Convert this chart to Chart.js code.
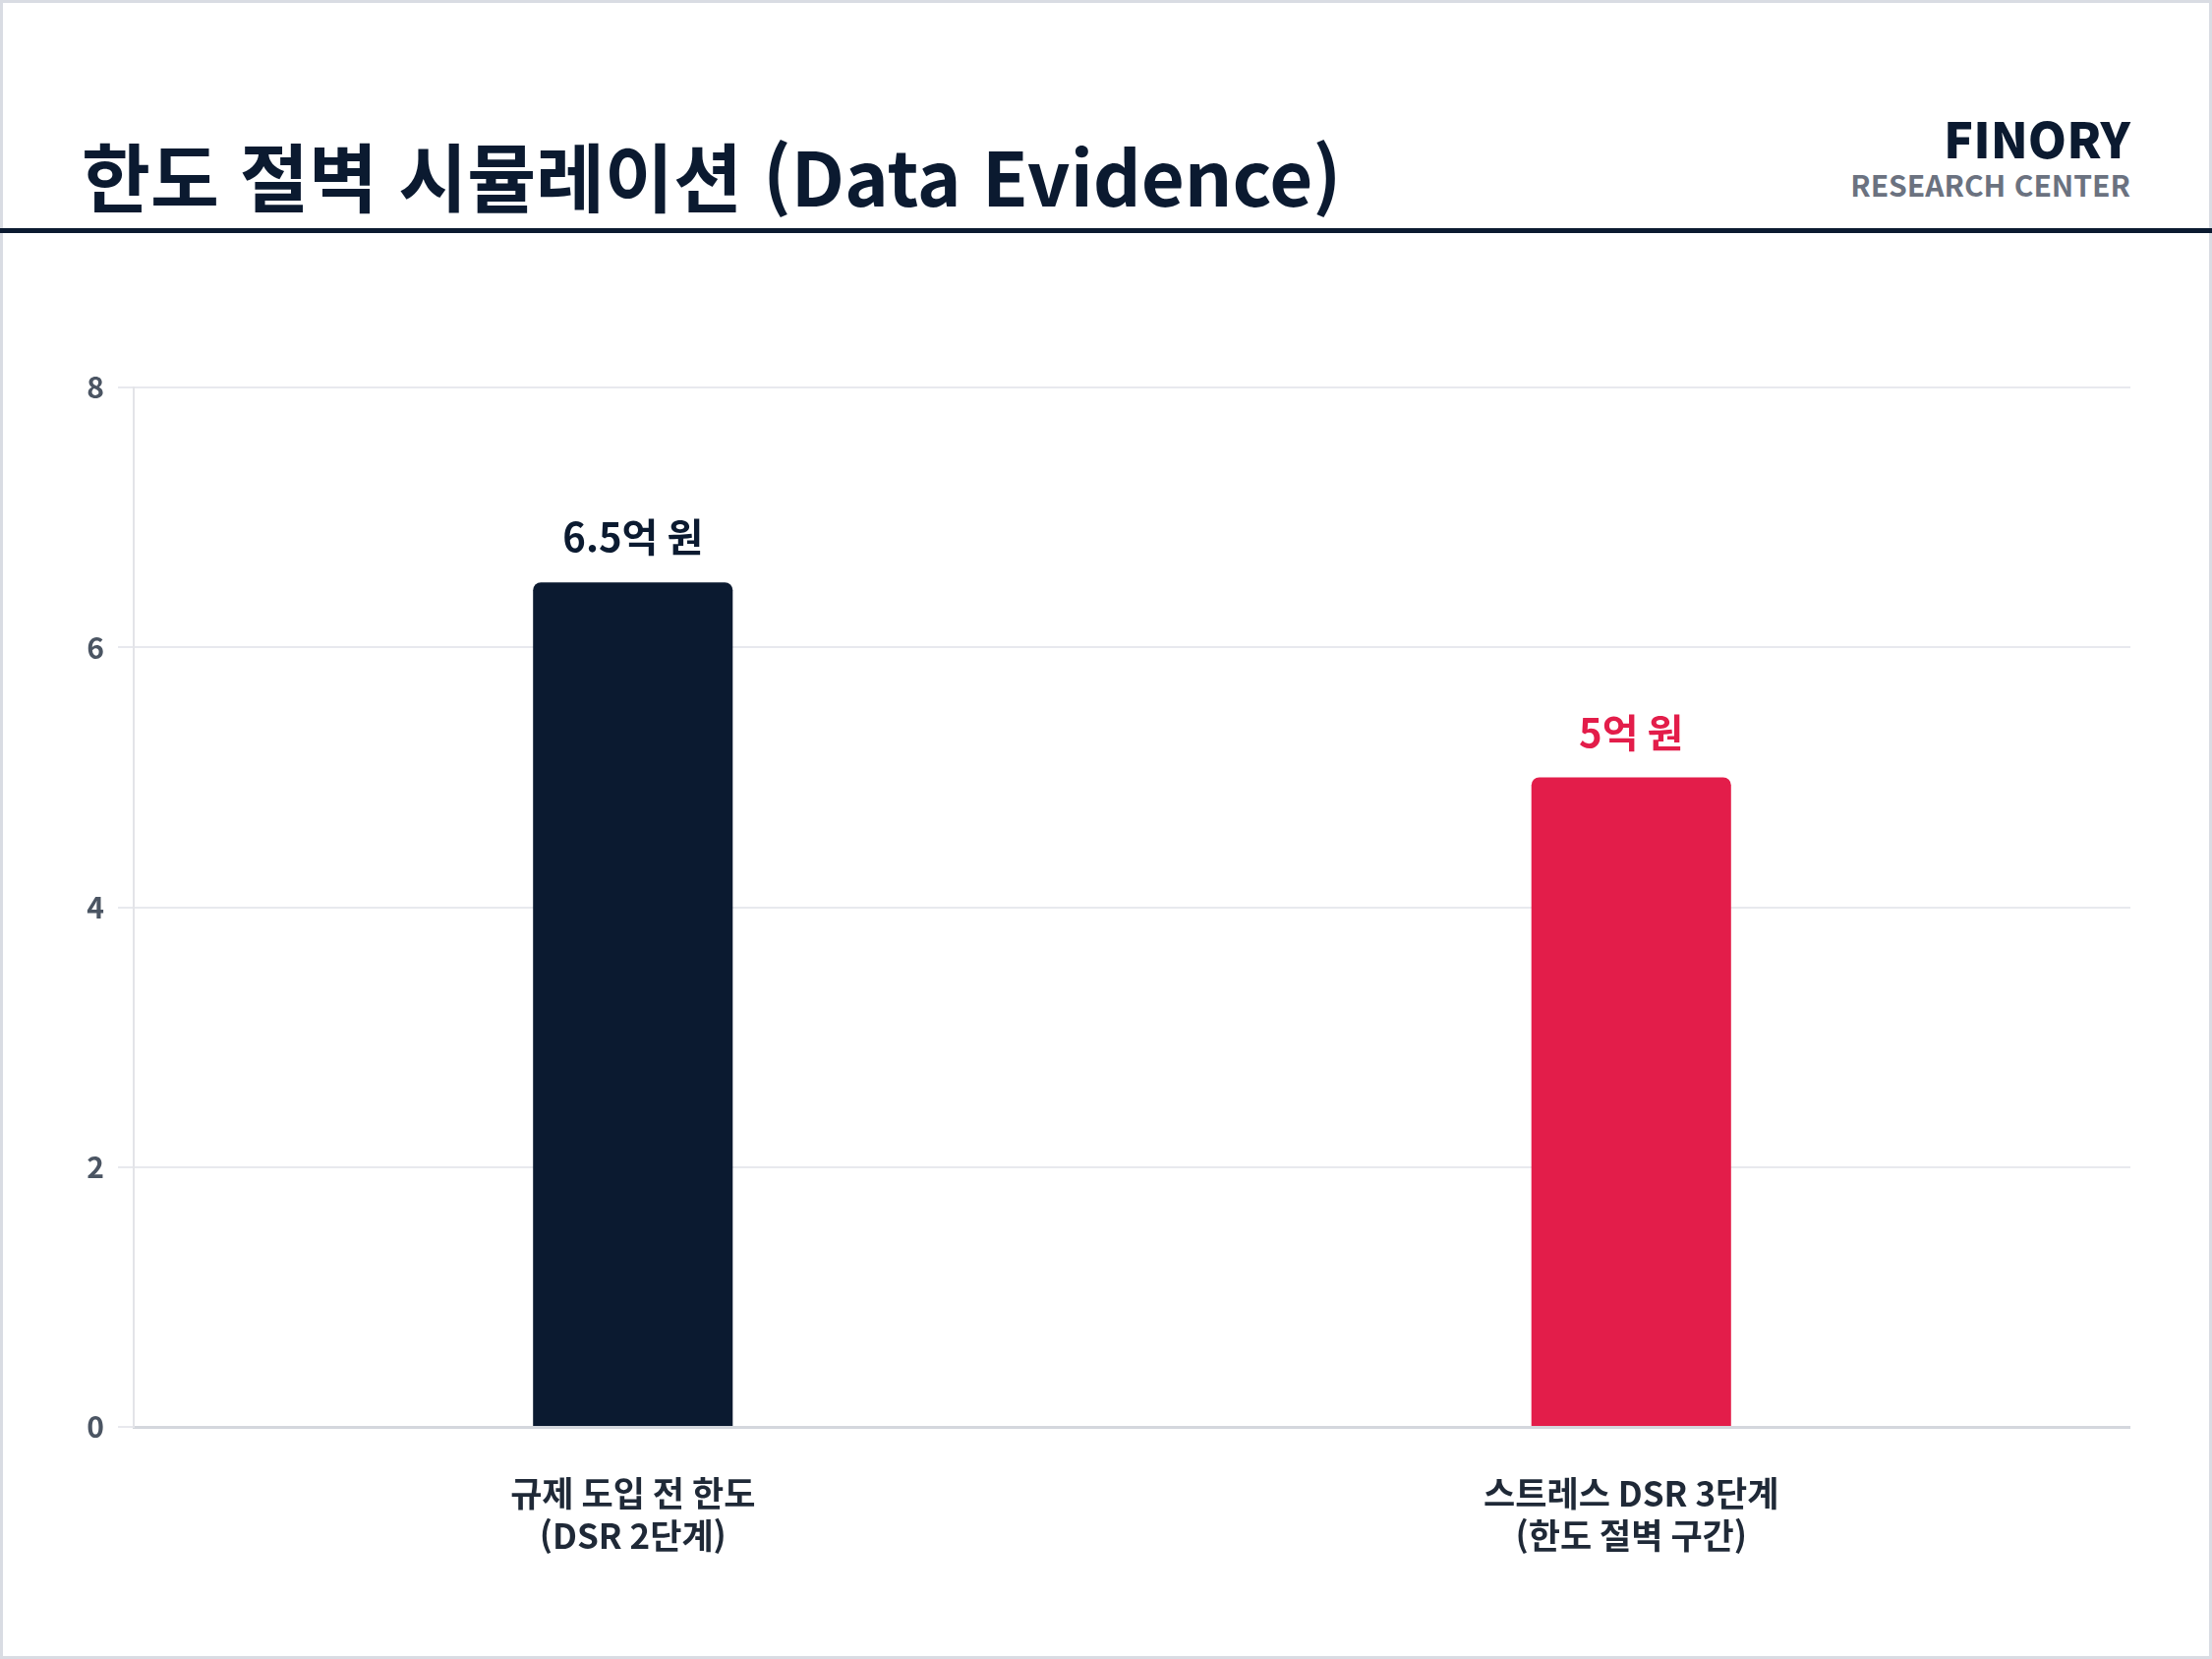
<!DOCTYPE html>
<html lang="ko">
<head>
<meta charset="utf-8">
<script src="https://cdn.jsdelivr.net/npm/chart.js@4.4.1/dist/chart.umd.min.js"></script>
<style>
  html, body { margin: 0; padding: 0; background: #fff; }
  body { width: 2250px; height: 1687px; position: relative; overflow: hidden;
    font-family: "Noto Sans CJK KR", "Noto Sans", sans-serif; }
  .frame { position: absolute; left: 0; top: 0; width: 2250px; height: 1687px;
    box-sizing: border-box; border: 3px solid #d9dce3; }
  .title { position: absolute; left: 83px; top: 139px; font-size: 76px; font-weight: 700;
    color: #0b1a30; line-height: 1; white-space: nowrap; }
  .brand { position: absolute; right: 83px; top: 114px; text-align: right; line-height: 1; }
  .brand .name { font-size: 50px; font-weight: 800; color: #0b1a30; }
  .brand .sub { font-size: 30px; font-weight: 700; color: #6b7280; margin-top: 8px; }
  .rule { position: absolute; left: 0; top: 232px; width: 2250px; height: 5px; background: #0b1a30; }
  .chart-box { position: absolute; left: 40px; top: 362px; width: 2127px; height: 1259px; }
</style>
</head>
<body>
<div class="frame"></div>
<div class="title">한도 절벽 시뮬레이션 (Data Evidence)</div>
<div class="brand">
  <div class="name">FINORY</div>
  <div class="sub">RESEARCH CENTER</div>
</div>
<div class="rule"></div>
<div class="chart-box"><canvas id="chart"></canvas></div>
<script>
const categories = [['규제 도입 전 한도', '(DSR 2단계)'], ['스트레스 DSR 3단계', '(한도 절벽 구간)']]
const limitValues = [6.5, 5]
const valueLabels = ['6.5억 원', '5억 원']
const barColors = ['#0b1a30', '#e31d4a']
const yTicks = [0, 2, 4, 6, 8]

// text above each bar
const barLabels = {
  id: 'barLabels',
  afterDatasetsDraw(chart) {
    const ctx = chart.ctx
    const meta = chart.getDatasetMeta(0)
    ctx.save()
    ctx.font = '700 40px "Noto Sans CJK KR", sans-serif'
    ctx.textAlign = 'center'
    ctx.textBaseline = 'middle'
    meta.data.forEach((bar, i) => {
      ctx.fillStyle = barColors[i]
      ctx.fillText(valueLabels[i], bar.x, bar.y - 46)
    })
    ctx.restore()
  }
}

const chart = new Chart(document.querySelector('#chart').getContext('2d'), {
  type: 'bar',
  data: {
    labels: categories,
    datasets: [{
      data: limitValues,
      backgroundColor: barColors,
      borderRadius: { topLeft: 8, topRight: 8 },
      borderSkipped: 'bottom',
      barPercentage: 0.4,
      categoryPercentage: 0.5
    }]
  },
  options: {
    responsive: true,
    maintainAspectRatio: false,
    animation: false,
    layout: { padding: 0 },
    plugins: { legend: { display: false }, tooltip: { enabled: false } },
    scales: {
      x: {
        grid: { display: false },
        border: { display: true, color: '#d4d7dd', width: 3 },
        ticks: {
          color: '#1f2937',
          padding: 38,
          font: { family: '"Noto Sans CJK KR", sans-serif', size: 35, weight: '600', lineHeight: 1.23 }
        },
        afterFit: s => { s.height = 170 }
      },
      y: {
        min: 0,
        max: 8,
        afterBuildTicks: s => { s.ticks = yTicks.map(v => ({ value: v })) },
        grid: { color: '#e8e9ee', lineWidth: 2, tickLength: 16 },
        border: { display: true, color: '#e3e4e8', width: 2 },
        ticks: {
          color: '#4b5563',
          padding: 14,
          font: { family: '"Noto Sans CJK KR", sans-serif', size: 30, weight: '600' }
        },
        afterFit: s => { s.width = 96 }
      }
    }
  },
  plugins: [barLabels]
})
</script>
</body>
</html>
